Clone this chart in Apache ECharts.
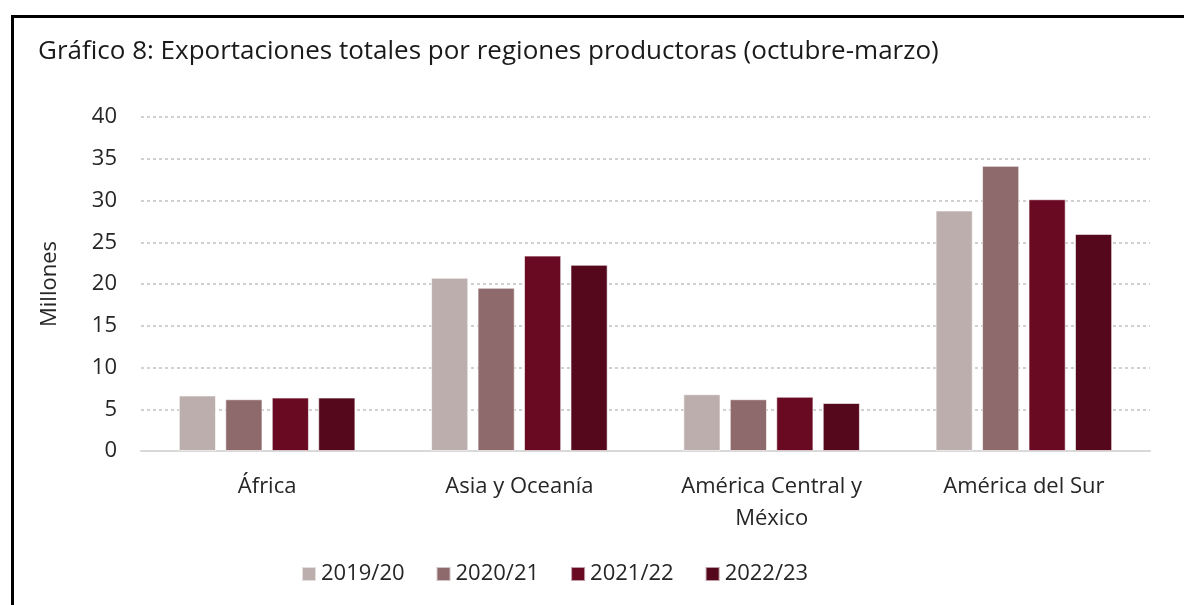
<!DOCTYPE html>
<html>
<head>
<meta charset="utf-8">
<script src="https://cdn.jsdelivr.net/npm/echarts@6/dist/echarts.min.js"></script>
<style>
  html, body { margin: 0; padding: 0; background: #fff; }
  #frame {
    position: absolute; left: 11px; top: 15px;
    width: 1200px; height: 620px;
    border-left: 3px solid #000; border-top: 3px solid #000;
  }
  #main { position: absolute; left: 0; top: 0; width: 1184px; height: 605px; }
</style>
</head>
<body>
<div id="frame"></div>
<div id="main"></div>
<script>
// datos (millones)
var regiones = ['África', 'Asia y Oceanía', 'América Central y\nMéxico', 'América del Sur']
var temporadas = ['2019/20', '2020/21', '2021/22', '2022/23']
var v2019 = [6.65, 20.75, 6.8, 28.8]
var v2020 = [6.2, 19.55, 6.2, 34.15]
var v2021 = [6.4, 23.4, 6.5, 30.15]
var v2022 = [6.4, 22.3, 5.75, 26.0]
var colores = ['#bdaeae', '#8e6a6c', '#690a22', '#55081c']

var chart = echarts.init(document.getElementById('main'))
var fuente = '"Open Sans", sans-serif'

var valores = [v2019, v2020, v2021, v2022]
var series = temporadas.map(function (t, i) {
  return {
    name: t,
    type: 'bar',
    data: valores[i],
    barGap: '25%',
    barCategoryGap: '30%',
    itemStyle: { color: colores[i], borderColor: 'rgba(255,255,255,0.6)', borderWidth: 1 },
    animation: false
  }
})

chart.setOption({
  animation: false,
  title: {
    text: 'Gráfico 8: Exportaciones totales por regiones productoras (octubre-marzo)',
    left: 33,
    top: 34,
    textStyle: { fontFamily: fuente, fontSize: 26, fontWeight: 'normal', color: '#1a1a1a' }
  },
  grid: { left: 141, right: 34, top: 117, bottom: 154 },
  legend: {
    data: temporadas,
    top: 558,
    left: 296,
    itemWidth: 14,
    itemHeight: 14,
    itemGap: 31,
    icon: 'rect',
    textStyle: { fontFamily: fuente, fontSize: 22, color: '#262626' }
  },
  xAxis: {
    type: 'category',
    data: regiones,
    axisTick: { show: false },
    axisLine: { lineStyle: { color: '#d9d9d9', width: 2 } },
    axisLabel: { fontFamily: fuente, fontSize: 22, color: '#262626', margin: 20, lineHeight: 32 }
  },
  yAxis: {
    type: 'value',
    min: 0,
    max: 40,
    interval: 5,
    name: 'Millones',
    nameLocation: 'middle',
    nameGap: 80,
    nameRotate: 90,
    nameTextStyle: { fontFamily: fuente, fontSize: 22, color: '#262626' },
    axisLine: { show: false },
    axisTick: { show: false },
    axisLabel: { fontFamily: fuente, fontSize: 22, color: '#262626', margin: 24 },
    splitLine: { lineStyle: { color: '#d0d0d0', width: 2, type: [3, 3] } }
  },
  series: series
})
</script>
</body>
</html>
